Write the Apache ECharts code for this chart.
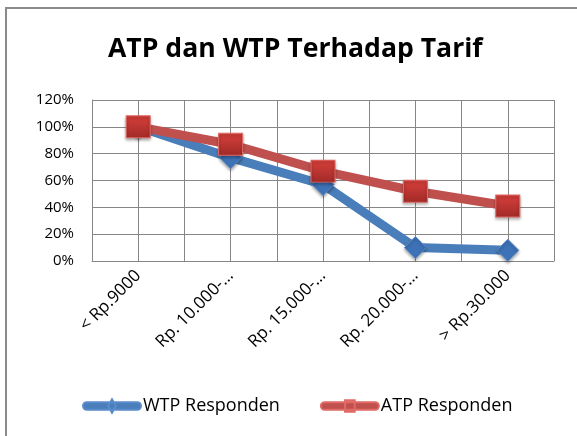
<!DOCTYPE html>
<html><head><meta charset="utf-8">
<script src="https://cdn.jsdelivr.net/npm/echarts@6/dist/echarts.min.js"></script>
<style>html,body{margin:0;padding:0;background:#fff}#c{width:577px;height:436px}</style>
</head><body><div id="c"></div>
<script>
const categories = ['< Rp.9000', 'Rp. 10.000-…', 'Rp. 15.000-…', 'Rp. 20.000-…', '> Rp.30.000'];
const wtpValues = [100, 77, 57, 10, 8];
const atpValues = [100, 87, 67, 52, 41];
const yTicks = [0, 20, 40, 60, 80, 100, 120];

const FONT = '"Open Sans", "Liberation Sans", sans-serif';
const WTP_ICON = 'path://M4,3 L56,3 A4,4 0 0 1 56,11 L4,11 A4,4 0 0 1 4,3 Z M30,0 L34,7 L30,14 L26,7 Z';
const ATP_ICON = 'path://M4,3 L56,3 A4,4 0 0 1 56,11 L4,11 A4,4 0 0 1 4,3 Z M25,1 L35,1 L35,13 L25,13 Z';
const chart = echarts.init(document.getElementById('c'));
chart.setOption({
  animation: false,
  backgroundColor: '#fff',
  title: {
    text: 'ATP dan WTP Terhadap Tarif',
    left: 103, top: 31,
    textStyle: {fontFamily: FONT, fontWeight: 'bold', fontSize: 26.6, color: '#000'}
  },
  graphic: [{
    type: 'rect', shape: {x: 6, y: 8, width: 620, height: 460},
    style: {fill: 'none', stroke: '#8a8a8a', lineWidth: 2}, silent: true, z: -1
  }],
  grid: {left: 92, right: 23, top: 100, bottom: 175},
  legend: {
    bottom: 16, left: 77, itemGap: 40, itemWidth: 58, itemHeight: 14,
    textStyle: {fontFamily: FONT, fontSize: 18, color: '#000', padding: [0, 0, 0, -3]},
    data: [
      {name: 'WTP Responden', icon: WTP_ICON, itemStyle: {color: '#4a7ebb'}},
      {name: 'ATP Responden', icon: ATP_ICON, itemStyle: {color: '#c0504d'}}
    ]
  },
  xAxis: [{
    type: 'category', data: categories, boundaryGap: true,
    axisLine: {lineStyle: {color: '#868686'}},
    axisTick: {show: false},
    splitLine: {show: true, lineStyle: {color: '#868686', width: 1}},
    axisLabel: {rotate: 45, fontFamily: FONT, fontSize: 17, color: '#000', margin: 12, interval: 0}
  }, {
    type: 'value', min: 0, max: 10, interval: 1, position: 'bottom',
    axisLine: {show: false}, axisTick: {show: false}, axisLabel: {show: false},
    splitLine: {show: true, lineStyle: {color: '#868686', width: 1}}
  }],
  yAxis: {
    type: 'value', min: 0, max: 120, interval: 20,
    axisLine: {show: true, lineStyle: {color: '#868686'}},
    axisTick: {show: false},
    splitLine: {show: true, lineStyle: {color: '#868686', width: 1}},
    axisLabel: {fontFamily: FONT, fontSize: 15, color: '#000', margin: 18, formatter: v => v + '%'}
  },
  series: [{
    name: 'WTP Responden', type: 'line', data: wtpValues,
    symbol: 'diamond', symbolSize: 22,
    lineStyle: {width: 9, color: '#4a7ebb'},
    itemStyle: {color: '#3d72b6', borderColor: '#5a8ccc', borderWidth: 1, shadowColor: 'rgba(0,0,0,0.35)', shadowBlur: 3, shadowOffsetY: 2},
    color: '#4a7ebb', z: 2
  }, {
    name: 'ATP Responden', type: 'line', data: atpValues,
    symbol: 'rect', symbolSize: [24, 22],
    lineStyle: {width: 9, color: '#c0504d'},
    itemStyle: {
      color: {type: 'linear', x: 0, y: 0, x2: 0, y2: 1, colorStops: [{offset: 0, color: '#d8403c'}, {offset: 1, color: '#a02a27'}]},
      borderColor: '#e06a66', borderWidth: 1, shadowColor: 'rgba(0,0,0,0.35)', shadowBlur: 3, shadowOffsetY: 2
    },
    color: '#c0504d', z: 3
  }]
});
</script></body></html>
